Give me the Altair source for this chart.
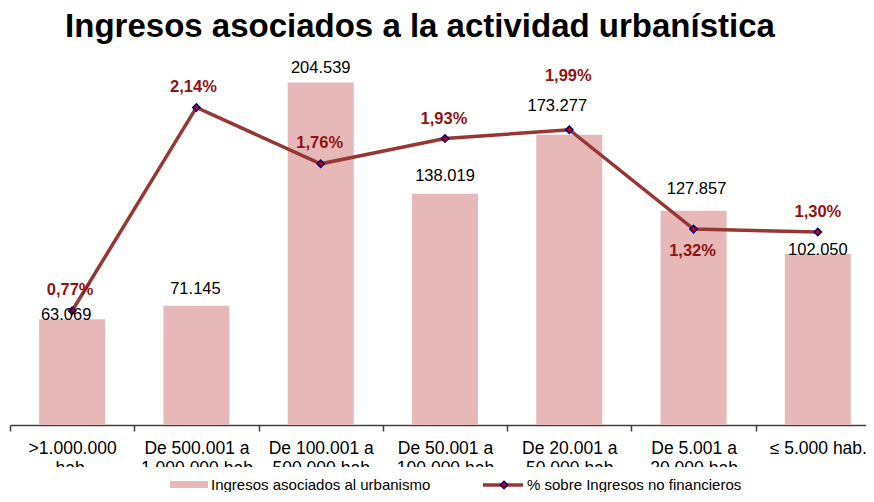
import altair as alt
import pandas as pd

# ---- data ----
categories = [
    ">1.000.000\nhab.",
    "De 500.001 a\n1.000.000 hab",
    "De 100.001 a\n500.000 hab",
    "De 50.001 a\n100.000 hab",
    "De 20.001 a\n50.000 hab",
    "De 5.001 a\n20.000 hab",
    "≤ 5.000 hab.",
]
ingresos = [63069, 71145, 204539, 138019, 173277, 127857, 102050]
porcentaje = [0.77, 2.14, 1.76, 1.93, 1.99, 1.32, 1.30]

title_text = "Ingresos asociados a la actividad urbanística"
legend_bar = "Ingresos asociados al urbanismo"
legend_line = "% sobre Ingresos no financieros"

# ---- layout (label nudges, in pixels) ----
bar_label_up = [4, 17, 14, 18, 29, 22, 4]
bar_label_dx = [-6, -1, 0, 0, -12, 3, 0]
pct_label_up = [21, 20, 21, 20, 54, -22, 20]
pct_label_dx = [-2, -3, -1, -1, -1, -1, 0]

W, H = 856, 402
XRANGE = 870
YMAX = 240000
Y2MAX = 2.709

BAR_COLOR = "#E6B9B8"
LINE_COLOR = "#953735"
LABEL_RED = "#8E1414"
FONT = "Liberation Sans"

df = pd.DataFrame({
    "cat": categories,
    "ingresos": ingresos,
    "pct": porcentaje,
    "bar_up": bar_label_up,
    "bar_dx": bar_label_dx,
    "pct_up": pct_label_up,
    "pct_dx": pct_label_dx,
})
df["bar_txt"] = [f"{v:,}".replace(",", ".") for v in ingresos]
df["pct_txt"] = [f"{p:.2f}".replace(".", ",") + "%" for p in porcentaje]

xenc = alt.X(
    "cat:N",
    sort=categories,
    scale=alt.Scale(range=[0, XRANGE], paddingInner=0, paddingOuter=0),
    axis=alt.Axis(
        title=None,
        labelAngle=0,
        labelFont=FONT,
        labelFontSize=17.5,
        labelColor="#000000",
        labelExpr="split(datum.label, '\\n')",
        labelLineHeight=20,
        labelPadding=8,
        labelLimit=200,
        domainColor="#404040",
        domainWidth=1.5,
        tickColor="#404040",
        tickWidth=1.5,
        tickSize=6,
        tickBand="extent",
        grid=False,
    ),
)

ybar = alt.Y("ingresos:Q", scale=alt.Scale(domain=[0, YMAX]), axis=None)
yline = alt.Y("pct:Q", scale=alt.Scale(domain=[0, Y2MAX]), axis=None)

base = alt.Chart(df)

bars = base.mark_bar(color=BAR_COLOR, width=66).encode(x=xenc, y=ybar)

line = base.mark_line(color=LINE_COLOR, strokeWidth=3.5).encode(x=xenc, y=yline)
pts = base.mark_point(
    shape="diamond", filled=True, fill="#C00000", stroke="#000080",
    strokeWidth=1.5, size=55, opacity=1
).encode(x=xenc, y=yline)

layers = [bars, line, pts]

# bar value labels
for dx in sorted(set(bar_label_dx)):
    layers.append(
        base.transform_filter(alt.datum.bar_dx == dx)
        .transform_calculate(ly=f"datum.ingresos + datum.bar_up * {YMAX / H}")
        .mark_text(font=FONT, fontSize=16.5, color="#000000", baseline="middle", dx=dx)
        .encode(x=xenc, y=alt.Y("ly:Q", scale=alt.Scale(domain=[0, YMAX]), axis=None),
                text="bar_txt:N")
    )

# percentage labels
for dx in sorted(set(pct_label_dx)):
    layers.append(
        base.transform_filter(alt.datum.pct_dx == dx)
        .transform_calculate(ly=f"datum.pct + datum.pct_up * {Y2MAX / H}")
        .mark_text(font=FONT, fontSize=16.5, fontWeight="bold", color=LABEL_RED,
                   baseline="middle", dx=dx)
        .encode(x=xenc, y=alt.Y("ly:Q", scale=alt.Scale(domain=[0, Y2MAX]), axis=None),
                text="pct_txt:N")
    )

one = pd.DataFrame({"t": [0]})

# mask clipping the lower part of the axis labels (as in the reference)
mask = alt.Chart(one).mark_rect(color="white").encode(
    x=alt.value(-2), x2=alt.value(XRANGE), y=alt.value(444), y2=alt.value(456)
)
layers.append(mask)

# title
title = alt.Chart(pd.DataFrame({"t": [title_text]})).mark_text(
    font=FONT, fontSize=33, fontWeight="bold", color="#000000",
    align="center", baseline="alphabetic"
).encode(text="t:N", x=alt.value(410), y=alt.value(14))
layers.append(title)

# legend
leg_rect = alt.Chart(one).mark_rect(color=BAR_COLOR).encode(
    x=alt.value(160), x2=alt.value(198), y=alt.value(458), y2=alt.value(465)
)
leg_line = alt.Chart(one).mark_rule(color=LINE_COLOR, strokeWidth=3.5).encode(
    x=alt.value(473), x2=alt.value(513), y=alt.value(462)
)
leg_pt = alt.Chart(one).mark_point(
    shape="diamond", filled=True, fill="#C00000", stroke="#000080",
    strokeWidth=1.5, size=55, opacity=1
).encode(x=alt.value(494), y=alt.value(462))
leg_t1 = alt.Chart(pd.DataFrame({"t": [legend_bar]})).mark_text(
    font=FONT, fontSize=15, color="#000000", align="left", baseline="alphabetic"
).encode(text="t:N", x=alt.value(201), y=alt.value(467))
leg_t2 = alt.Chart(pd.DataFrame({"t": [legend_line]})).mark_text(
    font=FONT, fontSize=15, color="#000000", align="left", baseline="alphabetic"
).encode(text="t:N", x=alt.value(517), y=alt.value(467))
layers += [leg_rect, leg_line, leg_pt, leg_t1, leg_t2]

chart = (
    alt.layer(*layers)
    .resolve_scale(y="independent")
    .properties(
        width=W,
        height=H,
        autosize=alt.AutoSizeParams(type="none"),
        padding={"left": 2, "top": 15, "right": 0, "bottom": 67},
        background="white",
    )
    .configure_view(stroke=None)
)

chart.save("out.html", embed_options={"renderer": "svg", "actions": False})
